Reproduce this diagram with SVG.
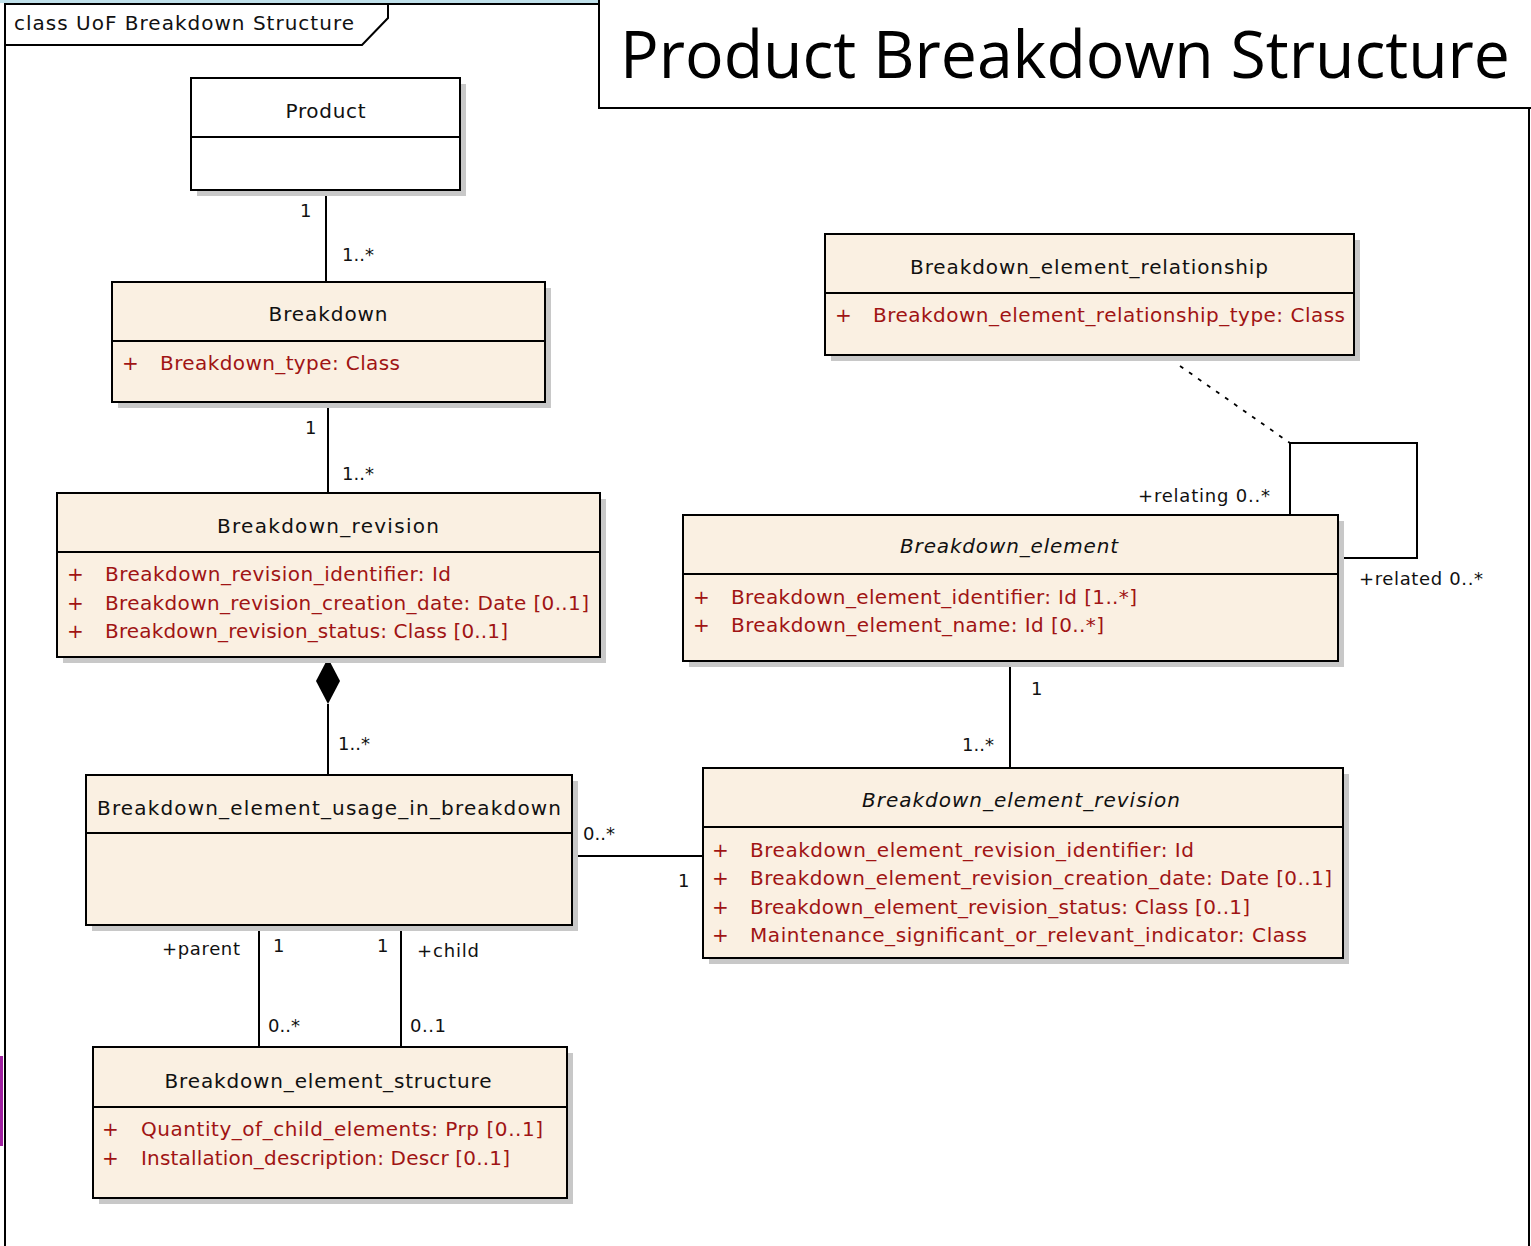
<svg xmlns="http://www.w3.org/2000/svg" width="1531" height="1246" viewBox="0 0 1531 1246">
<defs>
<style>
.bg{fill:#ffffff}
.box{fill:#faf0e2;stroke:#000;stroke-width:2}
.wbox{fill:#ffffff;stroke:#000;stroke-width:2}
.sh{fill:#c8c8c8}
.div{stroke:#000;stroke-width:2}
.t{font-family:"DejaVu Sans",Verdana,sans-serif;font-size:20px;fill:#111}
.tc{text-anchor:middle}
.it{font-style:italic}
.a{fill:#a01414}
.m{font-family:"DejaVu Sans",Verdana,sans-serif;font-size:18px;fill:#111}
.conn{stroke:#000;stroke-width:2;fill:none}
.dash{stroke:#000;stroke-width:1.8;fill:none;stroke-dasharray:4 7}
.frame{stroke:#000;stroke-width:2;fill:none}
</style>
</defs>
<rect x="0" y="0" width="1531" height="1246" class="bg"/>
<rect x="0" y="0" width="600" height="3" fill="#bfe0ea"/>
<rect x="0" y="1056" width="3" height="90" fill="#a020a0"/>

<g id="frame">
<path class="frame" d="M5,1246 L5,4 L599,4"/>
<path class="frame" d="M1529,108 L1529,1246"/>
<path class="frame" d="M5,45 L362,45 L388,18 L388,4"/>
<text class="t" x="14" y="30" font-size="18" textLength="340">class UoF Breakdown Structure</text>
</g>

<g id="title">
<path class="frame" d="M599,0 L599,108 L1531,108"/>
<text x="620" y="78" font-family="'Open Sans','Noto Sans',sans-serif" font-size="66" fill="#000" textLength="890" lengthAdjust="spacingAndGlyphs">Product Breakdown Structure</text>
</g>

<g id="connectors">
<line class="conn" x1="326" y1="191" x2="326" y2="282"/>
<line class="conn" x1="328" y1="402" x2="328" y2="493"/>
<path d="M328,658 L340,681 L328,704 L316,681 Z" fill="#000"/>
<line class="conn" x1="328" y1="704" x2="328" y2="775"/>
<line class="conn" x1="572" y1="856" x2="703" y2="856"/>
<line class="conn" x1="1010" y1="661" x2="1010" y2="768"/>
<line class="conn" x1="259" y1="925" x2="259" y2="1047"/>
<line class="conn" x1="401" y1="925" x2="401" y2="1047"/>
<polyline class="conn" points="1290,515 1290,443 1417,443 1417,558 1338,558"/>
<line class="dash" x1="1180" y1="366" x2="1290" y2="443"/>
<text class="m" x="300" y="217">1</text>
<text class="m" x="342" y="261">1..*</text>
<text class="m" x="305" y="434">1</text>
<text class="m" x="342" y="480">1..*</text>
<text class="m" x="338" y="750">1..*</text>
<text class="m" x="583" y="840">0..*</text>
<text class="m" x="678" y="887">1</text>
<text class="m" x="1031" y="695">1</text>
<text class="m" x="962" y="751">1..*</text>
<text class="m" x="162" y="955" textLength="78">+parent</text>
<text class="m" x="273" y="952">1</text>
<text class="m" x="377" y="952">1</text>
<text class="m" x="417" y="957" textLength="62">+child</text>
<text class="m" x="268" y="1032">0..*</text>
<text class="m" x="410" y="1032" textLength="36">0..1</text>
<text class="m" x="1138" y="502" textLength="132">+relating 0..*</text>
<text class="m" x="1359" y="585" textLength="124">+related 0..*</text>
</g>

<g id="product">
<rect class="sh" x="197" y="84" width="269" height="112"/>
<rect class="wbox" x="191" y="78" width="269" height="112"/>
<line class="div" x1="191" y1="137" x2="460" y2="137"/>
<text class="t tc" x="325.5" y="118" textLength="80">Product</text>
</g>

<g id="breakdown">
<rect class="sh" x="118" y="288" width="433" height="120"/>
<rect class="box" x="112" y="282" width="433" height="120"/>
<line class="div" x1="112" y1="341" x2="545" y2="341"/>
<text class="t tc" x="328" y="321" textLength="119">Breakdown</text>
<text class="t a" x="122" y="370">+</text>
<text class="t a" x="160" y="370" textLength="240">Breakdown_type:  Class</text>
</g>

<g id="breakdown_revision">
<rect class="sh" x="63" y="499" width="543" height="164"/>
<rect class="box" x="57" y="493" width="543" height="164"/>
<line class="div" x1="57" y1="552" x2="600" y2="552"/>
<text class="t tc" x="328" y="533" textLength="222">Breakdown_revision</text>
<text class="t a" x="67" y="581">+</text>
<text class="t a" x="105" y="581" textLength="346">Breakdown_revision_identifier:  Id</text>
<text class="t a" x="67" y="610">+</text>
<text class="t a" x="105" y="610" textLength="484">Breakdown_revision_creation_date:  Date [0..1]</text>
<text class="t a" x="67" y="638">+</text>
<text class="t a" x="105" y="638" textLength="403">Breakdown_revision_status:  Class [0..1]</text>
</g>

<g id="breakdown_element_usage_in_breakdown">
<rect class="sh" x="92" y="781" width="486" height="150"/>
<rect class="box" x="86" y="775" width="486" height="150"/>
<line class="div" x1="86" y1="833" x2="572" y2="833"/>
<text class="t tc" x="329" y="815" textLength="464">Breakdown_element_usage_in_breakdown</text>
</g>

<g id="breakdown_element_structure">
<rect class="sh" x="99" y="1053" width="474" height="151"/>
<rect class="box" x="93" y="1047" width="474" height="151"/>
<line class="div" x1="93" y1="1107" x2="567" y2="1107"/>
<text class="t tc" x="328" y="1088" textLength="327">Breakdown_element_structure</text>
<text class="t a" x="102" y="1136">+</text>
<text class="t a" x="141" y="1136" textLength="402">Quantity_of_child_elements:  Prp [0..1]</text>
<text class="t a" x="102" y="1165">+</text>
<text class="t a" x="141" y="1165" textLength="369">Installation_description:  Descr [0..1]</text>
</g>

<g id="breakdown_element_relationship">
<rect class="sh" x="831" y="240" width="529" height="121"/>
<rect class="box" x="825" y="234" width="529" height="121"/>
<line class="div" x1="825" y1="293" x2="1354" y2="293"/>
<text class="t tc" x="1089" y="274" textLength="358">Breakdown_element_relationship</text>
<text class="t a" x="835" y="322">+</text>
<text class="t a" x="873" y="322" textLength="472">Breakdown_element_relationship_type:  Class</text>
</g>

<g id="breakdown_element">
<rect class="sh" x="689" y="521" width="655" height="146"/>
<rect class="box" x="683" y="515" width="655" height="146"/>
<line class="div" x1="683" y1="574" x2="1338" y2="574"/>
<text class="t tc it" x="1009" y="553" textLength="218">Breakdown_element</text>
<text class="t a" x="693" y="604">+</text>
<text class="t a" x="731" y="604" textLength="406">Breakdown_element_identifier:  Id [1..*]</text>
<text class="t a" x="693" y="632">+</text>
<text class="t a" x="731" y="632" textLength="373">Breakdown_element_name:  Id [0..*]</text>
</g>

<g id="breakdown_element_revision">
<rect class="sh" x="709" y="774" width="640" height="190"/>
<rect class="box" x="703" y="768" width="640" height="190"/>
<line class="div" x1="703" y1="827" x2="1343" y2="827"/>
<text class="t tc it" x="1021" y="807" textLength="318">Breakdown_element_revision</text>
<text class="t a" x="712" y="857">+</text>
<text class="t a" x="750" y="857" textLength="444">Breakdown_element_revision_identifier:  Id</text>
<text class="t a" x="712" y="885">+</text>
<text class="t a" x="750" y="885" textLength="582">Breakdown_element_revision_creation_date:  Date [0..1]</text>
<text class="t a" x="712" y="914">+</text>
<text class="t a" x="750" y="914" textLength="500">Breakdown_element_revision_status:  Class [0..1]</text>
<text class="t a" x="712" y="942">+</text>
<text class="t a" x="750" y="942" textLength="557">Maintenance_significant_or_relevant_indicator:  Class</text>
</g>
</svg>
